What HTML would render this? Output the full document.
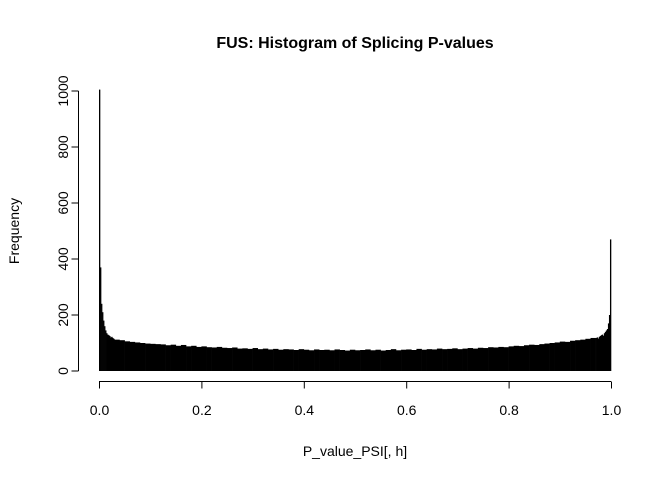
<!DOCTYPE html>
<html><head><meta charset="utf-8"><style>
body{margin:0;background:#fff}
svg text{font-family:"Liberation Sans",Arial,sans-serif;fill:#000}
</style></head><body>
<svg id="chart" width="672" height="480">
<text x="355" y="48" text-anchor="middle" font-size="16" font-weight="bold">FUS: Histogram of Splicing P-values</text>
<g id="bars"></g>
<g id="xaxis"></g>
<g id="yaxis"></g>
<text x="355" y="456" text-anchor="middle" font-size="14">P_value_PSI[, h]</text>
<text transform="translate(19,231) rotate(-90)" text-anchor="middle" font-size="14">Frequency</text>
</svg>
<script>
const leftEdges = [0,0.002,0.004,0.006,0.008,0.010,0.012,0.014,0.016,0.018,0.020,0.022,0.024,0.026,0.028];
const leftValues = [1005,370,240,210,180,160,145,135,130,128,125,120,122,118,115];
const midStart = 0.03;
const midWidth = 0.01;
const midValues = [112,110,106,104,102,100,98,97,96,95,92,94,90,93,88,90,86,88,85,84,
86,83,82,84,80,81,79,82,78,80,77,79,76,78,77,75,78,76,74,77,
75,76,74,77,75,73,76,74,75,77,74,76,73,75,78,74,76,77,75,79,
76,78,77,80,78,79,81,78,80,82,80,83,82,85,84,86,85,88,90,89,
92,94,93,96,98,100,102,105,104,108,110,112,115,118];
const rightEdges = [0.970,0.972,0.974,0.976,0.978,0.980,0.982,0.984,0.986,0.988,0.990,0.992,0.994,0.996,0.998];
const rightValues = [118,120,116,122,125,128,130,126,135,140,145,150,170,200,470];
const xTicks = [0,0.2,0.4,0.6,0.8,1.0];
const xTickLabels = ["0.0","0.2","0.4","0.6","0.8","1.0"];
const yTicks = [0,200,400,600,800,1000];

const NS="http://www.w3.org/2000/svg";
const x = v => 99 + v*512;
const y = v => 371 - v*0.28;
const bars=document.getElementById('bars');
function bar(x0,x1,v,i){
  const r=document.createElementNS(NS,'rect');
  r.setAttribute('x',x(x0)); r.setAttribute('width',Math.max(x(x1)-x(x0),0.5)+0.3);
  r.setAttribute('y',y(v)); r.setAttribute('height',y(0)-y(v)); r.setAttribute('fill','#000');
  
  
  bars.appendChild(r);
}
leftEdges.forEach((e,i)=>bar(e,e+0.002,leftValues[i],i));
midValues.forEach((v,i)=>bar(midStart+i*midWidth,midStart+(i+1)*midWidth,v,i));
rightEdges.forEach((e,i)=>bar(e,e+0.002,rightValues[i],i));

const xa=document.getElementById('xaxis');
function ln(g,x1,y1,x2,y2){const l=document.createElementNS(NS,'line');l.setAttribute('x1',x1);l.setAttribute('y1',y1);l.setAttribute('x2',x2);l.setAttribute('y2',y2);l.setAttribute('stroke','#000');l.setAttribute('stroke-width','1');g.appendChild(l);return l;}
function tx(g,xx,yy,s,tr){const t=document.createElementNS(NS,'text');t.setAttribute('x',xx);t.setAttribute('y',yy);t.setAttribute('font-size','14');t.setAttribute('text-anchor','middle');if(tr)t.setAttribute('transform',tr);t.textContent=s;g.appendChild(t);return t;}
ln(xa,x(0),381.5,x(1),381.5);
xTicks.forEach((v,i)=>{ln(xa,x(v)+0.5,381.5,x(v)+0.5,388.5);
  const t=tx(xa,x(v)+0.5,415,xTickLabels[i]);
  
  });
const ya=document.getElementById('yaxis');
ln(ya,78.5,y(0),78.5,y(1000));
yTicks.forEach(v=>{ln(ya,71.5,y(v),78.5,y(v));
  const t=tx(ya,0,0,String(v),`translate(68,${y(v)}) rotate(-90)`);
  
  });
</script>
</body></html>
